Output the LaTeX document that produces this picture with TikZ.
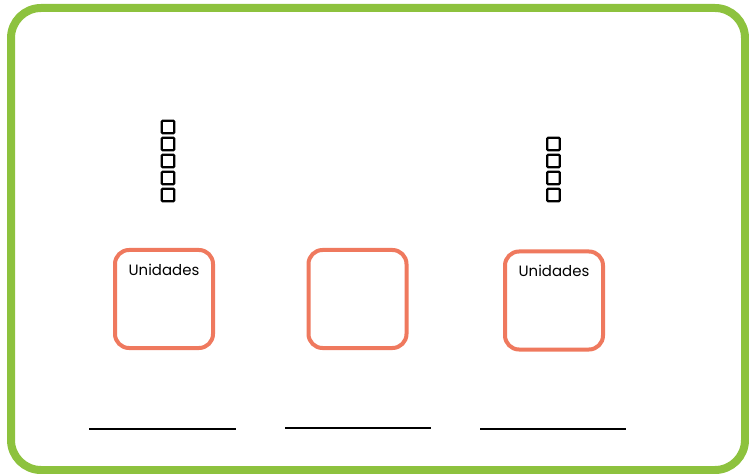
\documentclass[tikz,border=0pt]{standalone}
\usepackage{fontspec}
\setmainfont{Poppins}
\usetikzlibrary{positioning}
\definecolor{framegreen}{RGB}{141,194,62}
\definecolor{boxorange}{RGB}{239,121,94}

\begin{document}
\begin{tikzpicture}[
  x=1bp, y=-1bp,
  node distance=0.25cm and 0.25cm,
  frame/.style={draw=framegreen, line width=8bp, rounded corners=30bp},
  placebox/.style={draw=boxorange, rectangle, rounded corners=14bp,
                   line width=4bp, minimum width=98bp, minimum height=98bp,
                   fill=white},
  unitcube/.style={draw, rectangle, rounded corners=1pt, line width=2.2bp,
                   minimum size=12.5bp, inner sep=0pt},
  placelabel/.style={font=\fontsize{15}{17}\selectfont, inner sep=0pt},
  answerline/.style={draw, line width=2bp},
]
  \useasboundingbox (0,0) rectangle (749,474);
  \draw[frame] (11,8) rectangle (745,470);
  % units drawn above the boxes
  \foreach \k in {0,...,4}
    \node[unitcube] (ua\k) at (168,{195-17*\k}) {};
  \foreach \k in {0,...,3}
    \node[unitcube] (ub\k) at (553.5,{195-17*\k}) {};
  \node[placebox] (boxa) at (164,299) {};
  \node[placelabel, below=16bp of boxa.north] (laba) {Unidades};
  \node[placebox] (boxb) at (357.5,299) {};
  \node[placebox] (boxc) at (554,300.5) {};
  \node[placelabel, below=15bp of boxc.north] (labc) {Unidades};
  % lines for the answers
  \draw[answerline] (89,429) -- (236,429);
  \draw[answerline] (285,428) -- (431,428);
  \draw[answerline] (480,429) -- (626,429);
\end{tikzpicture}
\end{document}
